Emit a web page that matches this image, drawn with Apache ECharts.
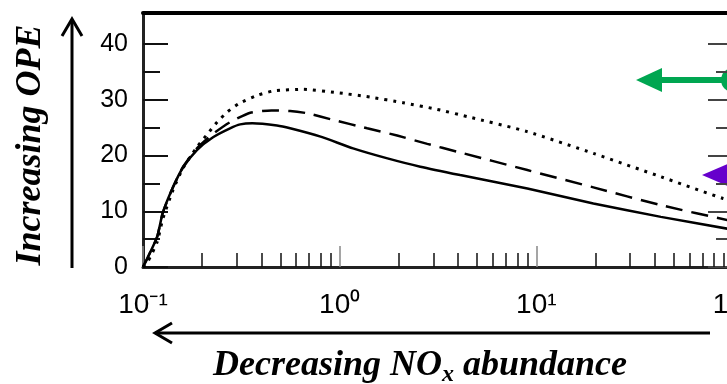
<!DOCTYPE html>
<html>
<head>
<meta charset="utf-8">
<script src="https://cdn.jsdelivr.net/npm/echarts@6/dist/echarts.min.js"></script>
<style>
  html, body { margin: 0; padding: 0; background: #fff; }
  #chart { width: 727px; height: 384px; }
</style>
</head>
<body>
<div id="chart"></div>
<script>
// curve values
var solidX = [0.1, 0.106, 0.118, 0.126, 0.142, 0.16, 0.188, 0.227, 0.277, 0.312, 0.36, 0.48, 0.56, 0.8, 1.17, 1.75, 2.57, 4.1, 9, 19.5, 43, 100];
var solidY = [0, 1.8, 5.4, 9.7, 14.3, 17.9, 21.0, 23.3, 24.9, 25.6, 25.8, 25.4, 24.9, 23.4, 21.3, 19.5, 18.0, 16.5, 14.1, 11.4, 9.0, 6.7];

var dashX = [0.1, 0.106, 0.118, 0.126, 0.142, 0.16, 0.188, 0.227, 0.277, 0.351, 0.45, 0.56, 0.684, 0.927, 1.38, 1.96, 2.79, 3.96, 9, 19.5, 43, 100];
var dashY = [0, 1.8, 5.4, 9.7, 14.3, 18.0, 21.3, 23.9, 26.0, 27.7, 28.1, 28.0, 27.6, 26.4, 24.9, 23.6, 22.1, 20.7, 17.4, 14.3, 11.1, 8.2];

var dotX = [0.1, 0.106, 0.118, 0.126, 0.142, 0.16, 0.188, 0.214, 0.238, 0.27, 0.31, 0.38, 0.46, 0.652, 0.97, 1.43, 2.1, 3.13, 4.46, 9, 19.5, 43, 89, 100];
var dotY = [0, 1.0, 4.5, 8.6, 13.8, 17.8, 21.5, 24.0, 26.0, 27.9, 29.4, 30.8, 31.6, 31.9, 31.3, 30.5, 29.5, 28.3, 27.0, 24.3, 20.4, 16.2, 12.3, 11.8];

// ticks
var xTickLabels = ['10⁻¹', '10⁰', '10¹', '10²'];
var xMinorTicks = [0.2, 0.3, 0.4, 0.5, 0.6, 0.7, 0.8, 0.9, 2, 3, 4, 5, 6, 7, 8, 9, 20, 30, 40, 50, 60, 70, 80, 90];
var yMajorTicks = [0, 10, 20, 30, 40];
var yMinorTicks = [5, 15, 25, 35];

function pairs(xs, ys) {
    var d = [];
    for (var i = 0; i < xs.length; i++) {
        d.push([xs[i], ys[i]]);
    }
    return d;
}

var dom = document.getElementById('chart');
var myChart = echarts.init(dom, null, { renderer: 'canvas' });

var yMax = 45.6;
var sans = 'Arial, sans-serif';

function yAx(pos, ticks, len, labels, line) {
    return {
        type: 'value',
        position: pos,
        min: 0,
        max: yMax,
        splitLine: { show: false },
        axisLine: { show: line, onZero: false, lineStyle: { color: '#222', width: 3 } },
        axisTick: {
            show: true, inside: true, length: len, customValues: ticks,
            lineStyle: { color: pos === 'right' ? '#444' : '#111', width: 2 }
        },
        axisLabel: {
            show: labels, customValues: ticks, margin: 15,
            fontFamily: sans, fontSize: 25, color: '#000'
        }
    };
}

var option = {
    animation: false,
    textStyle: { fontFamily: sans },
    grid: { left: 143, right: -6, top: 13, bottom: 117, outerBoundsMode: 'none' },
    xAxis: [
        {
            type: 'log', logBase: 10, min: 0.1, max: 100, position: 'bottom',
            splitLine: { show: false },
            axisLine: { onZero: false, lineStyle: { color: '#222', width: 3 } },
            axisTick: { inside: true, length: 21, lineStyle: { color: '#888', width: 1.5 } },
            axisLabel: {
                margin: 24,
                fontFamily: sans, fontSize: 28, color: '#000',
                formatter: function (v) {
                    var i = Math.round(Math.log(v) / Math.LN10) + 1;
                    return xTickLabels[i];
                }
            }
        },
        {
            type: 'log', logBase: 10, min: 0.1, max: 100, position: 'bottom',
            splitLine: { show: false },
            axisLine: { show: false, onZero: false },
            axisTick: { inside: true, length: 14, customValues: xMinorTicks, lineStyle: { color: '#111', width: 1.5 } },
            axisLabel: { show: false }
        },
        {
            type: 'log', logBase: 10, min: 0.1, max: 100, position: 'top',
            splitLine: { show: false },
            axisLine: { onZero: false, lineStyle: { color: '#000', width: 4 } },
            axisTick: { show: false },
            axisLabel: { show: false }
        }
    ],
    yAxis: [
        yAx('left', yMajorTicks, 25, true, true),
        yAx('left', yMinorTicks, 17, false, false),
        yAx('right', yMajorTicks, 25, false, false),
        yAx('right', yMinorTicks, 17, false, false)
    ],
    series: [
        {
            name: 'solid', type: 'line', showSymbol: false, smooth: 0.2,
            data: pairs(solidX, solidY),
            lineStyle: { color: '#000', width: 2.5, type: 'solid' }
        },
        {
            name: 'dashed', type: 'line', showSymbol: false, smooth: 0.2,
            data: pairs(dashX, dashY),
            lineStyle: { color: '#000', width: 2.5, type: [17, 9] }
        },
        {
            name: 'dotted', type: 'line', showSymbol: false, smooth: 0.2,
            data: pairs(dotX, dotY),
            lineStyle: { color: '#000', width: 3, type: [3, 6] }
        }
    ],
    graphic: [
        // vertical arrow
        { type: 'line', shape: { x1: 72, y1: 268, x2: 72, y2: 20 }, style: { stroke: '#000', lineWidth: 3 } },
        { type: 'polyline', shape: { points: [[62, 36], [72, 19], [82, 36]] }, style: { stroke: '#000', lineWidth: 3, fill: null } },
        // horizontal arrow
        { type: 'line', shape: { x1: 155, y1: 333, x2: 710, y2: 333 }, style: { stroke: '#000', lineWidth: 3 } },
        { type: 'polyline', shape: { points: [[172, 323], [155, 333], [172, 343]] }, style: { stroke: '#000', lineWidth: 3, fill: null } },
        {
            type: 'text', x: 31, y: 145, rotation: Math.PI / 2,
            style: {
                text: 'Increasing OPE', fill: '#000',
                font: 'italic bold 36px "Liberation Serif"',
                textAlign: 'center', textVerticalAlign: 'middle'
            }
        },
        {
            type: 'text', x: 420, y: 366,
            style: {
                text: '{t|Decreasing NO}{u|x}{t| abundance}',
                textAlign: 'center', textVerticalAlign: 'middle',
                rich: {
                    t: { font: 'italic bold 36px "Liberation Serif"', fill: '#000' },
                    u: { font: 'italic bold 24px "Liberation Serif"', fill: '#000', padding: [18, 0, 0, 0] }
                }
            }
        },
        // green double arrow
        { type: 'line', shape: { x1: 655, y1: 80, x2: 730, y2: 80 }, style: { stroke: '#00a651', lineWidth: 6 } },
        { type: 'polygon', shape: { points: [[636, 80], [662, 68], [662, 92]] }, style: { fill: '#00a651' } },
        { type: 'circle', shape: { cx: 733, cy: 80, r: 12 }, style: { fill: '#00a651' } },
        // purple arrow head
        { type: 'polygon', shape: { points: [[702, 175], [732, 162], [732, 188]] }, style: { fill: '#6600cc' } }
    ]
};

myChart.setOption(option);
window.addEventListener('resize', myChart.resize);
</script>
</body>
</html>
